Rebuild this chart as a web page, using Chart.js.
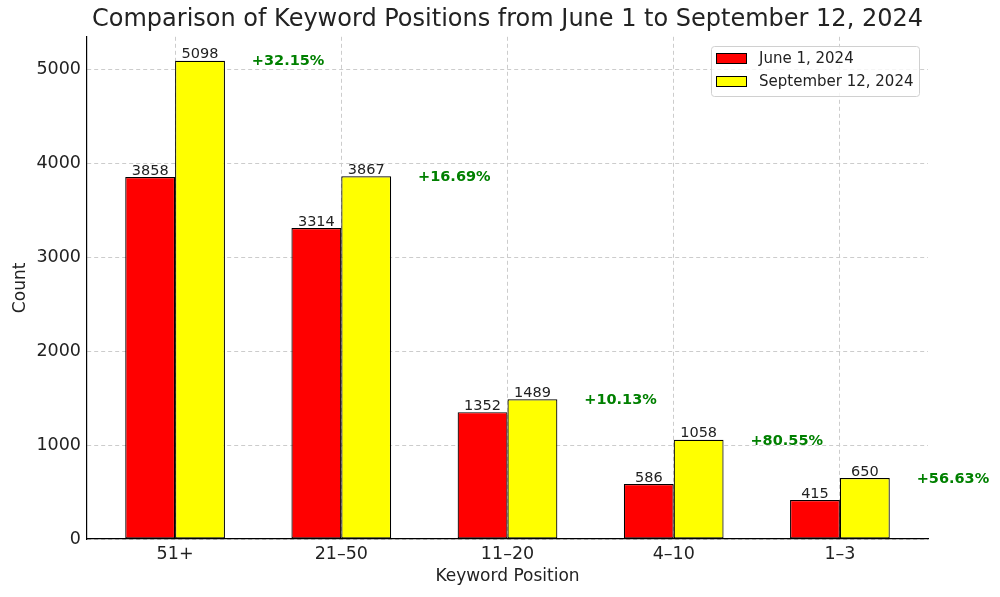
<!DOCTYPE html>
<html>
<head>
<meta charset="utf-8">
<script src="https://cdn.jsdelivr.net/npm/chart.js@4/dist/chart.umd.min.js"></script>
<style>
  html, body { margin: 0; padding: 0; background: #fff; }
  #wrap { width: 1000px; height: 597px; }
</style>
</head>
<body>
<div id="wrap"><canvas id="chart"></canvas></div>
<script>
// data
const positions = ["51+", "21–50", "11–20", "4–10", "1–3"];
const june = [3858, 3314, 1352, 586, 415];
const september = [5098, 3867, 1489, 1058, 650];
const changes = [32.15, 16.69, 10.13, 80.55, 56.63];
const yTicks = [0, 1000, 2000, 3000, 4000, 5000];

const FONT = "'DejaVu Sans', sans-serif";

// value labels on the bars, percentage labels and the framed legend
const annotate = {
  id: "annotate",
  afterDatasetsDraw(chart) {
    const ctx = chart.ctx;
    const x = chart.scales.x;
    const y = chart.scales.y;
    ctx.save();
    ctx.font = "14.5px " + FONT;
    ctx.fillStyle = "#222";
    ctx.textAlign = "center";
    ctx.textBaseline = "alphabetic";
    chart.data.datasets.forEach((ds, d) => {
      chart.getDatasetMeta(d).data.forEach((bar, i) => {
        ctx.fillText(ds.data[i].y, bar.x, bar.y - 2.5);
      });
    });
    ctx.font = "bold 14.5px " + FONT;
    ctx.fillStyle = "#008000";
    ctx.textBaseline = "middle";
    changes.forEach((c, i) => {
      ctx.fillText("+" + c.toFixed(2) + "%", x.getPixelForValue(i + 0.68), y.getPixelForValue(september[i]) + 1);
    });

    // legend
    const lx = 711, ly = 46, lw = 208, lh = 50;
    ctx.beginPath();
    ctx.roundRect(lx + 0.5, ly + 0.5, lw, lh, 3);
    ctx.fillStyle = "rgba(255,255,255,0.8)";
    ctx.fill();
    ctx.strokeStyle = "#d0d0d0";
    ctx.lineWidth = 1;
    ctx.stroke();
    ctx.font = "15px " + FONT;
    ctx.textAlign = "left";
    ctx.textBaseline = "middle";
    chart.data.datasets.forEach((ds, d) => {
      const ry = ly + 13 + d * 23;
      ctx.fillStyle = ds.backgroundColor;
      ctx.fillRect(lx + 5.5, ry - 5.5, 30, 10);
      ctx.strokeStyle = "#000";
      ctx.strokeRect(lx + 5.5, ry - 5.5, 30, 10);
      ctx.fillStyle = "#222";
      ctx.fillText(ds.label, lx + 48, ry);
    });
    ctx.restore();
  }
};

new Chart(document.getElementById("chart"), {
  type: "bar",
  data: {
    datasets: [
      {
        label: "June 1, 2024",
        data: june.map((v, i) => ({ x: i, y: v })),
        backgroundColor: "#ff0000",
        borderColor: "#000",
        borderWidth: 1.2,
        borderSkipped: false
      },
      {
        label: "September 12, 2024",
        data: september.map((v, i) => ({ x: i, y: v })),
        backgroundColor: "#ffff00",
        borderColor: "#000",
        borderWidth: 1.2,
        borderSkipped: false
      }
    ]
  },
  options: {
    responsive: true,
    maintainAspectRatio: false,
    animation: false,
    categoryPercentage: 0.6,
    barPercentage: 1.0,
    layout: { padding: { top: 0, right: 72, bottom: 0, left: 0 } },
    plugins: {
      legend: { display: false },
      tooltip: { enabled: false },
      title: {
        display: true,
        fullSize: false,
        text: "Comparison of Keyword Positions from June 1 to September 12, 2024",
        color: "#222",
        font: { family: FONT, size: 24, weight: "normal" },
        padding: { top: 5, bottom: 3 }
      }
    },
    scales: {
      x: {
        type: "linear",
        offset: false,
        min: -0.53,
        max: 4.53,
        afterBuildTicks: (s) => { s.ticks = positions.map((p, i) => ({ value: i })); },
        afterFit: (s) => { s.height = 58; },
        ticks: {
          callback: (v) => positions[v],
          color: "#222",
          font: { family: FONT, size: 17.5 },
          padding: 5,
          maxRotation: 0
        },
        grid: { offset: false, color: "#cccccc", tickLength: 0, drawTicks: false },
        border: { display: true, color: "#000", width: 1.2, dash: [4, 3] },
        title: {
          display: true,
          text: "Keyword Position",
          color: "#222",
          font: { family: FONT, size: 17 },
          padding: { top: 0, bottom: 10 }
        }
      },
      y: {
        min: 0,
        max: 5353,
        afterBuildTicks: (s) => { s.ticks = yTicks.map((v) => ({ value: v })); },
        afterFit: (s) => { s.width = 87; },
        ticks: {
          callback: (v) => String(v),
          color: "#222",
          font: { family: FONT, size: 17.5 },
          padding: 6
        },
        grid: { color: "#cccccc", tickLength: 0, drawTicks: false },
        border: { display: true, color: "#000", width: 1.2, dash: [4, 3] },
        title: {
          display: true,
          text: "Count",
          color: "#222",
          font: { family: FONT, size: 17 },
          padding: { top: 10, bottom: 0 }
        }
      }
    }
  },
  plugins: [annotate]
});
</script>
</body>
</html>
